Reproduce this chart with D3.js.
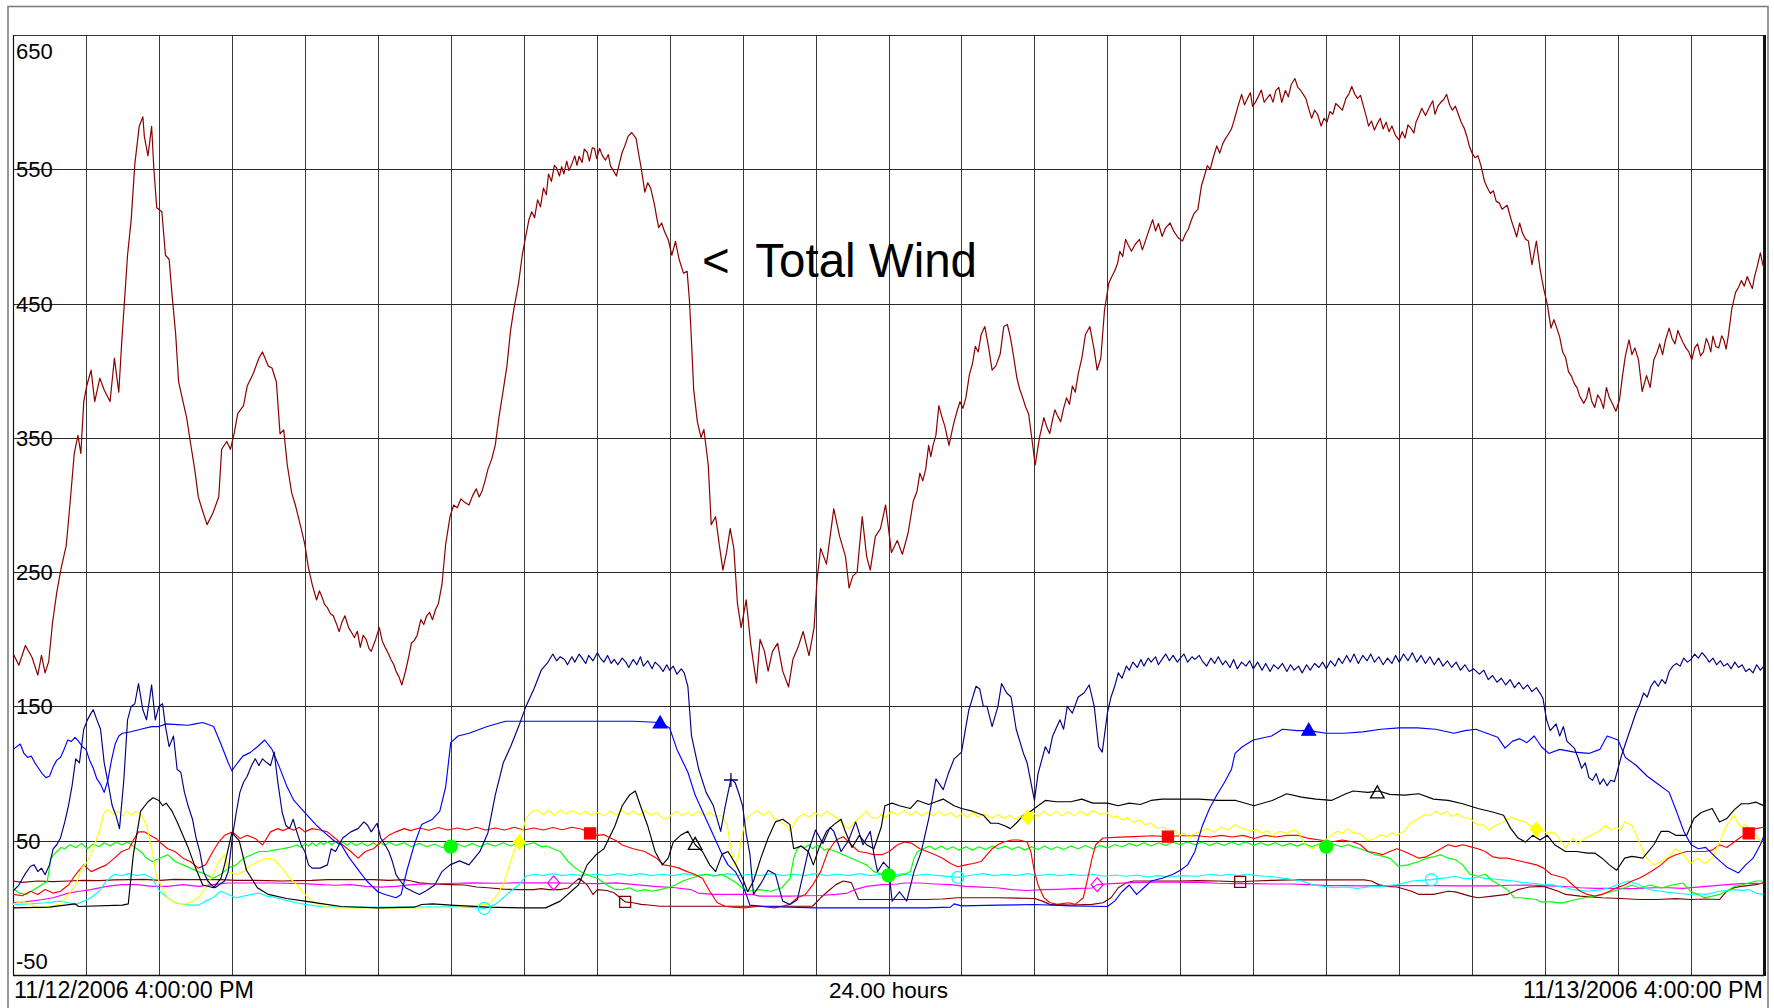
<!DOCTYPE html>
<html><head><meta charset="utf-8">
<script src="https://cdn.jsdelivr.net/npm/d3@7"></script>
<style>
html,body{margin:0;padding:0;background:#fff;overflow:hidden;}
svg{display:block;font-family:"Liberation Sans",Arial,sans-serif;}
</style></head><body>
<svg id="chart" width="1774" height="1008"></svg>
<script>
const startLabel = "11/12/2006 4:00:00 PM";
const endLabel = "11/13/2006 4:00:00 PM";
const spanLabel = "24.00 hours";
const annotation = "<  Total Wind";
const yTicks = [650, 550, 450, 350, 250, 150, 50, -50];
const hourTicks = d3.range(1, 24);

const totalWind = [[0,189.5],[0.08,180.7],[0.17,195.4],[0.26,186.6],[0.34,173.3],[0.39,188],[0.44,175],[0.49,183.6],[0.54,211.6],[0.60,235],[0.66,253],[0.73,270],[0.78,300],[0.84,338.5],[0.89,351.8],[0.93,338.5],[0.97,377],[1.01,388.6],[1.07,400.4],[1.12,377],[1.19,394.5],[1.25,385.7],[1.33,377],[1.39,409.3],[1.45,384],[1.49,421],[1.57,486],[1.62,512.5],[1.67,554],[1.73,582],[1.78,589],[1.80,574.5],[1.85,560],[1.90,582],[1.93,551],[1.97,521.4],[2.04,518.4],[2.09,486],[2.14,483],[2.18,456.5],[2.23,427],[2.27,391.6],[2.33,377],[2.38,365],[2.43,347.3],[2.49,326.7],[2.54,306],[2.59,297],[2.66,285.4],[2.74,294],[2.82,306],[2.86,341.5],[2.93,347.3],[2.98,341.5],[3.03,353],[3.08,368],[3.16,374],[3.21,388.6],[3.29,397.5],[3.37,409.3],[3.42,414],[3.50,403.4],[3.55,402],[3.61,391.6],[3.66,353],[3.71,356],[3.76,329.6],[3.82,309],[3.87,300],[3.95,282.4],[4.00,270.6],[4.05,253],[4.10,241],[4.16,229.3],[4.20,236],[4.23,232.3],[4.27,226],[4.31,223.5],[4.35,219],[4.39,217.5],[4.43,212],[4.47,205.7],[4.51,213],[4.55,217.5],[4.60,208.7],[4.64,205],[4.68,201.3],[4.72,206],[4.76,194],[4.8,203],[4.84,199.9],[4.88,193],[4.91,191],[4.97,199.9],[5.02,208.7],[5.06,199],[5.10,194],[5.14,190],[5.18,185],[5.22,181],[5.25,176.2],[5.29,172],[5.33,166],[5.38,176.2],[5.42,186],[5.46,197],[5.5,199],[5.54,203],[5.59,214.6],[5.63,211],[5.67,217.5],[5.71,220],[5.75,214.6],[5.79,222],[5.83,226.4],[5.88,241],[5.93,270.6],[5.99,291.3],[6.04,300],[6.09,298],[6.14,304.6],[6.19,302],[6.25,300],[6.3,307],[6.35,312],[6.39,306],[6.43,310.5],[6.47,318],[6.51,326.7],[6.56,334],[6.61,344.4],[6.66,365],[6.72,385.7],[6.77,403.4],[6.82,430],[6.87,447.6],[6.93,465.3],[6.98,486],[7.03,500.7],[7.07,512],[7.11,518.4],[7.15,514],[7.19,527.3],[7.23,522],[7.27,536],[7.31,531],[7.34,546.5],[7.38,541],[7.42,553],[7.45,551],[7.49,545],[7.52,552],[7.55,546.5],[7.59,556],[7.62,549],[7.66,554],[7.7,560],[7.73,553],[7.76,559.7],[7.8,555],[7.83,565],[7.87,562.7],[7.9,556],[7.94,566],[7.97,565.6],[8.0,558],[8.04,565.6],[8.08,560],[8.12,556.8],[8.16,561],[8.19,552.4],[8.23,549],[8.27,545],[8.31,554],[8.35,562.7],[8.39,568],[8.43,574.5],[8.48,577.4],[8.54,573],[8.58,560],[8.61,551],[8.66,533],[8.7,540],[8.74,536],[8.79,524.3],[8.82,515],[8.85,506.6],[8.89,510],[8.93,503.7],[8.98,497.8],[9.03,486],[9.08,496.3],[9.13,483],[9.19,472.7],[9.24,474],[9.27,453.5],[9.29,432.9],[9.33,385.7],[9.38,362.1],[9.43,350.3],[9.47,356.2],[9.53,329.6],[9.57,285.4],[9.63,291.3],[9.68,270.6],[9.73,251.5],[9.78,264.7],[9.83,282.4],[9.88,267.7],[9.93,226.4],[9.98,208.7],[10.05,229.3],[10.11,197],[10.19,167.4],[10.24,199.9],[10.30,191],[10.35,176.3],[10.41,191],[10.48,197],[10.55,176.3],[10.63,164.5],[10.69,185.1],[10.76,194],[10.83,205.8],[10.91,187.9],[10.98,208.7],[11.02,244.1],[11.07,267.7],[11.15,256],[11.25,297.2],[11.33,276.6],[11.41,261.8],[11.46,238.2],[11.51,247],[11.57,250],[11.64,291.3],[11.70,261.8],[11.75,251.5],[11.82,276.6],[11.89,282.4],[11.96,300],[12.04,264.7],[12.12,273.6],[12.19,263.3],[12.27,279.5],[12.34,303],[12.39,310],[12.43,323.7],[12.47,318],[12.51,326.7],[12.55,344.4],[12.58,336],[12.61,344.4],[12.65,352],[12.69,374],[12.73,366],[12.77,359.1],[12.83,344.4],[12.87,355],[12.90,362.1],[12.94,370],[12.98,376.9],[13.02,372],[13.06,379.8],[13.11,397.5],[13.15,405],[13.19,418.1],[13.23,414],[13.27,427],[13.32,432.9],[13.37,418.1],[13.42,400.4],[13.47,403.4],[13.53,412.2],[13.58,432.9],[13.63,434.4],[13.67,425],[13.71,412.2],[13.76,394.5],[13.8,386],[13.84,379.8],[13.88,373],[13.92,368],[13.97,347.3],[14.01,329.6],[14.07,350.3],[14.13,365],[14.17,358],[14.21,353.2],[14.25,364],[14.28,370.9],[14.32,366],[14.36,362.1],[14.4,372],[14.44,379.8],[14.48,375],[14.52,388.6],[14.56,384],[14.60,397.5],[14.65,409.3],[14.70,427],[14.76,432.9],[14.82,415.2],[14.86,400.4],[14.91,409.3],[14.96,444.7],[15.02,465.3],[15.06,470],[15.10,474.2],[15.14,480],[15.17,488.9],[15.21,485],[15.25,497.8],[15.29,493],[15.33,488.9],[15.38,494],[15.44,497.8],[15.48,490],[15.51,494.8],[15.56,503],[15.62,512.5],[15.66,504],[15.70,509.6],[15.75,500],[15.80,506.6],[15.86,510],[15.91,503.7],[15.97,499],[16.03,496.6],[16.07,502],[16.11,505.5],[16.15,512],[16.19,517.3],[16.24,520.2],[16.29,537.9],[16.33,545],[16.37,552.7],[16.41,550],[16.45,558.6],[16.50,567.4],[16.54,562],[16.58,568.9],[16.62,573],[16.66,576.3],[16.7,580],[16.73,585.1],[16.79,596.9],[16.84,605.8],[16.88,598],[16.92,602.8],[16.96,607],[16.99,596.9],[17.03,600],[17.07,604.3],[17.11,609],[17.15,599.9],[17.19,603],[17.23,605.8],[17.27,600],[17.31,608.7],[17.35,611],[17.39,599.9],[17.44,608.7],[17.48,604],[17.52,613.1],[17.57,617.6],[17.61,611],[17.65,608.7],[17.72,602.8],[17.76,595],[17.80,588],[17.84,594],[17.88,591],[17.93,582.2],[17.97,588],[18.01,585.1],[18.05,593],[18.09,591],[18.13,599],[18.17,596.9],[18.22,594],[18.27,602.8],[18.31,606],[18.35,611.7],[18.39,606],[18.43,602.8],[18.47,605],[18.51,596.9],[18.55,589],[18.58,582.2],[18.62,586],[18.66,579.2],[18.7,584],[18.74,588],[18.78,580],[18.82,585.1],[18.86,578],[18.90,582.2],[18.95,575],[19.00,571.8],[19.04,578],[19.08,573.3],[19.12,583],[19.16,580.7],[19.2,577],[19.23,585.1],[19.27,590],[19.31,595.4],[19.36,590],[19.42,596.9],[19.46,601],[19.49,591],[19.53,597],[19.57,599.9],[19.61,602],[19.65,605.8],[19.69,598],[19.73,594],[19.77,597],[19.81,591],[19.85,585],[19.89,580.7],[19.93,574],[19.96,567.4],[20.0,562],[20.04,558.6],[20.08,560],[20.12,552.7],[20.17,540.9],[20.21,536],[20.25,532],[20.29,534],[20.33,526.1],[20.37,525],[20.41,520.2],[20.48,523.2],[20.54,511.4],[20.58,505],[20.61,499.6],[20.65,510],[20.69,502.5],[20.73,498],[20.77,496.6],[20.82,478.9],[20.88,496.6],[20.93,475.9],[20.98,461.2],[21.03,449.4],[21.08,431.7],[21.12,438],[21.16,431.7],[21.2,425],[21.24,414],[21.28,410],[21.32,399.3],[21.36,396],[21.40,390.4],[21.44,387],[21.47,381.6],[21.53,375.7],[21.57,380],[21.60,387.5],[21.64,377],[21.68,372.7],[21.72,382],[21.76,378.6],[21.8,372],[21.84,387.5],[21.88,380],[21.92,375.7],[21.97,369.8],[22.02,378.6],[22.06,396],[22.10,411.1],[22.15,422.9],[22.19,412],[22.23,417],[22.28,408.1],[22.33,384.5],[22.39,396.3],[22.44,387.5],[22.49,408.1],[22.53,413],[22.57,420],[22.61,412],[22.65,422.9],[22.70,431.7],[22.74,424],[22.78,420],[22.82,430],[22.85,425.8],[22.89,421],[22.93,417],[22.97,414],[23.01,408.1],[23.05,417],[23.09,420],[23.13,411],[23.17,414],[23.21,424],[23.24,420],[23.27,414],[23.30,425.8],[23.34,418],[23.38,417],[23.42,426],[23.45,422.9],[23.48,416],[23.51,425.8],[23.56,446.5],[23.61,458.3],[23.65,462],[23.69,467.1],[23.73,463],[23.77,470.1],[23.8,466],[23.84,461.2],[23.87,470],[23.90,476],[23.95,487.8],[23.98,480],[24.00,476]];

const navy = [[0,12.4],[0.08,17],[0.16,24.7],[0.24,31],[0.29,32],[0.34,27],[0.39,29.6],[0.44,24.7],[0.5,32],[0.55,44],[0.6,47],[0.65,52],[0.71,64],[0.76,76],[0.81,91],[0.86,111],[0.91,108],[0.97,133],[1.02,140],[1.07,145],[1.1,147.5],[1.15,140],[1.2,133],[1.25,108],[1.31,91],[1.36,76],[1.41,69],[1.46,59],[1.52,96],[1.57,140],[1.62,150],[1.67,152],[1.72,167],[1.78,147.5],[1.83,140],[1.9,166],[1.95,140],[2.0,150],[2.05,152],[2.09,135],[2.14,120],[2.2,128],[2.25,103],[2.3,101],[2.35,86],[2.4,76],[2.46,66],[2.51,52],[2.56,42],[2.61,27],[2.67,20],[2.72,17],[2.77,15],[2.82,17],[2.9,20],[2.95,27],[3.01,54],[3.06,71],[3.11,86],[3.16,93.5],[3.21,98],[3.27,106],[3.32,111],[3.37,106],[3.42,111],[3.48,108],[3.53,106],[3.58,116],[3.63,93.5],[3.69,71],[3.74,61.5],[3.79,59],[3.84,66],[3.89,56.6],[3.95,46.8],[4.0,42],[4.05,32],[4.1,29.6],[4.21,29.6],[4.31,32],[4.36,44],[4.42,42],[4.52,52],[4.63,56.6],[4.73,59],[4.81,64],[4.86,61.5],[4.91,56.6],[4.99,63],[5.04,52],[5.1,46.8],[5.15,42],[5.2,34.5],[5.25,24.7],[5.31,20],[5.38,15],[5.49,12],[5.57,10],[5.67,13],[5.78,17],[5.88,27],[5.99,32],[6.12,35],[6.25,32],[6.4,42],[6.51,56],[6.61,84],[6.72,108],[6.82,120],[6.93,135],[7.03,150],[7.14,163],[7.24,177],[7.32,182],[7.4,189],[7.45,184],[7.5,187],[7.56,185],[7.6,181],[7.66,187],[7.7,183],[7.76,189],[7.8,186],[7.85,182],[7.89,188],[7.95,184],[8.01,190],[8.05,186],[8.1,183],[8.15,188],[8.2,182],[8.24,185],[8.29,181],[8.35,186],[8.4,183],[8.44,179],[8.5,185],[8.55,181],[8.6,187],[8.64,180],[8.7,184],[8.76,178],[8.8,183],[8.86,180],[8.91,176],[8.96,181],[9.0,177],[9.05,180],[9.1,174],[9.16,178],[9.2,175],[9.25,165],[9.3,128],[9.4,103],[9.5,86],[9.6,76],[9.7,57],[9.76,75],[9.84,96],[9.9,93],[9.95,85],[10.0,76],[10.05,55],[10.1,40],[10.15,10],[10.25,18],[10.35,28],[10.45,25],[10.55,5],[10.65,2.5],[10.75,6],[10.85,30],[10.9,42],[11.0,58],[11.1,48],[11.2,60],[11.25,57],[11.35,42],[11.45,50],[11.55,64],[11.65,47],[11.75,57],[11.8,40],[11.85,27],[11.93,34],[12.0,30],[12.05,5],[12.15,12],[12.25,5],[12.35,27],[12.45,42],[12.55,66],[12.65,96],[12.75,88],[12.82,100],[12.9,111],[13.0,116],[13.1,147],[13.2,165],[13.25,163],[13.3,150],[13.35,150],[13.42,135],[13.5,150],[13.55,167],[13.62,160],[13.68,157],[13.75,133],[13.85,115],[13.9,108],[14.0,80],[14.05,100],[14.15,120],[14.2,115],[14.25,128],[14.35,140],[14.4,133],[14.45,150],[14.52,145],[14.6,157],[14.68,160],[14.75,166],[14.82,150],[14.88,120],[14.93,116],[15.0,145],[15.05,157],[15.1,165],[15.15,175],[15.2,171],[15.26,180],[15.3,177],[15.35,183],[15.41,179],[15.46,185],[15.5,180],[15.56,186],[15.6,183],[15.66,187],[15.7,181],[15.76,186],[15.8,189],[15.85,184],[15.9,188],[15.96,183],[16.0,186],[16.05,189],[16.1,183],[16.16,187],[16.2,185],[16.26,188],[16.3,184],[16.36,180],[16.42,186],[16.47,182],[16.52,187],[16.58,181],[16.62,184],[16.68,179],[16.73,185],[16.78,178],[16.84,183],[16.9,180],[16.95,184],[17.0,178],[17.06,183],[17.12,177],[17.17,182],[17.23,176],[17.28,181],[17.34,178],[17.4,182],[17.46,176],[17.51,181],[17.56,177],[17.62,180],[17.67,175],[17.73,181],[17.78,177],[17.84,182],[17.9,179],[17.95,183],[18.0,178],[18.06,184],[18.12,180],[18.17,186],[18.22,182],[18.28,188],[18.33,183],[18.38,189],[18.44,182],[18.5,188],[18.56,184],[18.61,189],[18.66,183],[18.72,187],[18.78,181],[18.84,186],[18.9,182],[18.95,188],[19.0,183],[19.06,189],[19.12,184],[19.18,190],[19.24,183],[19.3,188],[19.36,182],[19.42,187],[19.48,181],[19.54,186],[19.6,180],[19.66,184],[19.72,179],[19.78,183],[19.84,177],[19.9,181],[19.96,176],[20.02,178],[20.1,174],[20.16,177],[20.22,170],[20.28,173],[20.34,168],[20.4,171],[20.46,166],[20.52,170],[20.58,164],[20.64,168],[20.7,163],[20.76,166],[20.82,161],[20.88,164],[20.94,159],[20.97,156],[21.02,140],[21.07,132],[21.15,137],[21.2,128],[21.25,135],[21.3,124],[21.4,119],[21.45,112],[21.5,104],[21.55,108],[21.6,97],[21.65,95],[21.7,100],[21.75,92],[21.8,96],[21.85,91],[21.9,95],[21.95,94],[22.0,104],[22.05,114],[22.1,122],[22.15,130],[22.2,138],[22.25,146],[22.3,152],[22.35,160],[22.4,157],[22.45,165],[22.5,169],[22.55,165],[22.6,170],[22.65,167],[22.7,176],[22.75,180],[22.8,182],[22.85,180],[22.9,186],[22.95,183],[23.0,185],[23.05,189],[23.1,186],[23.15,190],[23.2,187],[23.25,183],[23.3,186],[23.35,181],[23.4,184],[23.45,180],[23.5,182],[23.55,178],[23.6,183],[23.65,179],[23.7,181],[23.75,176],[23.8,178],[23.85,175],[23.9,181],[23.95,177],[24.0,180]];

const blue = [[0,118],[0.1,122],[0.15,115],[0.2,112],[0.25,113],[0.3,108],[0.35,104],[0.4,100],[0.45,97],[0.5,98],[0.55,105],[0.6,110],[0.65,112],[0.7,118],[0.75,125],[0.8,124],[0.85,127],[0.9,124],[0.95,120],[1.0,118],[1.05,110],[1.1,104],[1.15,96],[1.2,92],[1.25,86],[1.3,95],[1.35,110],[1.4,122],[1.45,128],[1.5,130],[1.6,131],[1.75,133],[1.9,135],[2.0,135],[2.1,137],[2.25,136.5],[2.4,136],[2.5,137],[2.6,138],[2.75,135],[2.85,122],[2.95,108],[3.0,102],[3.05,106],[3.15,113],[3.25,115.6],[3.35,120],[3.45,125],[3.55,118],[3.65,105],[3.75,91],[3.85,80],[4.0,71],[4.15,62],[4.25,57],[4.4,50],[4.5,47],[4.6,38],[4.75,27],[4.85,20],[5.0,12],[5.1,10],[5.25,7.5],[5.32,10],[5.4,28],[5.5,47],[5.6,62],[5.75,66],[5.85,72],[5.93,90],[6.0,123],[6.1,128],[6.25,130],[6.5,135],[6.75,139],[7.0,139],[7.5,139],[8.0,139],[8.5,139],[8.87,138],[9.0,134],[9.1,118],[9.25,101],[9.35,84],[9.5,66],[9.6,54],[9.7,42],[9.8,32],[9.9,27],[10.0,17],[10.05,10],[10.1,2],[10.3,1],[11.0,0],[12.5,0],[12.85,0.5],[12.9,3],[13.0,1.5],[13.5,2],[14.0,2.5],[14.5,1.5],[15.0,1],[15.1,5],[15.2,12],[15.3,17],[15.4,10],[15.5,15],[15.6,20],[15.75,22],[15.9,25],[16.0,28],[16.1,32],[16.2,42],[16.3,61],[16.4,74],[16.5,84],[16.6,93],[16.7,103],[16.75,115],[16.85,120],[17.0,125],[17.25,128],[17.4,133],[17.6,132],[17.76,132],[18.0,130],[18.25,130],[18.5,131],[18.75,133],[19.0,134],[19.25,134],[19.5,133],[19.75,130],[19.9,132],[20.05,133],[20.2,130],[20.35,127],[20.45,119],[20.55,124],[20.65,126],[20.75,123],[20.85,128],[20.95,120],[21.05,115],[21.2,118],[21.4,116],[21.6,115],[21.75,118],[21.85,128],[22.0,125],[22.1,112],[22.25,106],[22.4,98],[22.55,92],[22.7,86],[22.8,72],[22.9,57],[23.0,47],[23.1,44],[23.2,45],[23.35,37],[23.5,30],[23.65,26],[23.75,32],[23.85,37],[23.95,47],[24.0,54]];

const black = [[0,0],[0.5,0.5],[0.85,3],[0.9,1],[1.5,2],[1.58,3],[1.65,40],[1.75,72],[1.85,79],[1.92,82],[2.0,80],[2.05,76],[2.1,78],[2.18,72],[2.25,64],[2.4,45],[2.5,30],[2.6,17],[2.75,15],[2.85,22],[2.9,32],[3.0,56],[3.1,50],[3.2,28],[3.35,15],[3.5,10],[3.75,7],[4.0,5],[4.25,3],[4.5,1],[5.0,0],[5.5,0.5],[5.6,2.5],[5.75,3],[6.0,2],[6.5,0.5],[7.0,0],[7.3,0],[7.5,5],[7.75,17],[7.87,32],[8.0,40],[8.1,44],[8.25,61],[8.35,76],[8.45,84],[8.53,87],[8.6,76],[8.7,61],[8.8,42],[8.9,32],[8.98,37],[9.05,49],[9.15,54],[9.25,57],[9.35,47],[9.45,42],[9.55,32],[9.63,27],[9.72,40],[9.8,42],[9.9,33],[10.0,22],[10.07,12],[10.15,20],[10.25,37],[10.35,52],[10.45,64],[10.55,66],[10.65,62],[10.7,44],[10.8,46],[10.9,42],[10.97,32],[11.05,45],[11.15,57],[11.25,62],[11.35,66],[11.4,58],[11.5,45],[11.6,54],[11.7,47],[11.8,44],[11.9,60],[11.95,76],[12.05,78],[12.15,76],[12.3,74],[12.4,80],[12.55,77],[12.65,79],[12.75,81],[12.9,76],[13.0,74],[13.15,72],[13.3,69],[13.4,63],[13.5,63],[13.6,61],[13.67,59],[13.75,63],[13.85,69],[13.95,72],[14.05,76],[14.15,80],[14.3,79],[14.5,79],[14.65,81],[14.8,78],[15.0,78],[15.15,76],[15.3,78],[15.45,77],[15.6,80],[15.75,81],[16.0,81],[16.26,81],[16.51,80],[16.76,80],[17.01,76],[17.26,80],[17.46,85],[17.66,82.5],[17.86,81],[18.07,80],[18.27,85],[18.37,87],[18.57,86],[18.72,87],[18.87,84.5],[19.07,84],[19.27,85],[19.47,81],[19.67,80],[19.87,77.5],[20.08,74],[20.28,71.4],[20.43,69],[20.53,59],[20.63,52],[20.73,49],[20.83,54],[20.93,50.5],[21.03,54],[21.13,47],[21.28,42],[21.43,42],[21.58,40.8],[21.68,40.8],[21.78,37],[21.88,32],[21.98,28],[22.09,37],[22.19,38.3],[22.34,37],[22.49,47],[22.59,57],[22.69,57],[22.79,54],[22.94,54],[23.04,66.5],[23.14,71],[23.29,74],[23.39,64],[23.49,66.5],[23.59,73],[23.69,77.5],[23.79,77.5],[23.89,78.7],[23.99,76.3]];

const yellow = [[0,2.6],[0.13,5],[0.24,2.6],[0.34,0],[0.5,1.2],[0.65,2.6],[0.76,10],[0.86,17],[0.94,29.6],[1.02,34.5],[1.1,44],[1.18,56.6],[1.25,71],[1.3,73],[1.38,69.5],[1.44,72],[1.5,68.5],[1.56,72],[1.62,69],[1.68,72],[1.75,70],[1.83,61.5],[1.91,42],[1.96,25],[2.04,15],[2.12,7.5],[2.22,3.8],[2.33,2.6],[2.43,3.8],[2.54,7.5],[2.64,15],[2.74,25],[2.82,34.5],[2.9,39.6],[2.95,27],[3.06,25],[3.16,27],[3.27,32],[3.37,34.5],[3.48,37],[3.58,36],[3.69,29.6],[3.79,22.2],[3.89,17.3],[4.0,10],[4.1,5],[4.26,1],[4.42,0],[5.57,0],[6.09,0.5],[6.51,2.6],[6.61,7.5],[6.72,17.3],[6.82,34.5],[6.9,46.8],[6.98,56.6],[7.03,66.5],[7.11,71.4],[7.19,73],[7.27,69.5],[7.34,72.5],[7.43,69],[7.5,73],[7.58,70],[7.66,72.5],[7.76,69.5],[7.85,72],[7.93,69],[8.01,71],[8.1,68.5],[8.19,72],[8.27,69],[8.35,72.5],[8.43,69.5],[8.5,72],[8.58,69],[8.66,72.5],[8.74,69],[8.82,71],[8.9,67],[8.97,66.5],[9.04,70],[9.1,72],[9.17,68.5],[9.24,71],[9.32,68.5],[9.39,72],[9.47,69],[9.55,71],[9.63,68],[9.71,69],[9.79,61.5],[9.84,44],[9.89,32],[9.94,37],[9.99,54],[10.05,66.5],[10.13,70],[10.2,72.5],[10.28,69],[10.36,72],[10.44,66.5],[10.52,64],[10.6,61.5],[10.65,57],[10.75,66.5],[10.83,70],[10.91,67.7],[10.99,71],[11.07,68],[11.15,72],[11.23,69],[11.3,66.5],[11.38,61.5],[11.46,59],[11.54,64],[11.64,69],[11.7,72],[11.75,67.7],[11.85,66.5],[11.9,70],[11.96,67],[12.04,72],[12.12,69],[12.22,72.6],[12.3,69],[12.38,72],[12.45,68.5],[12.53,71],[12.61,68.5],[12.69,72],[12.77,68.5],[12.85,71],[12.93,67.5],[13.01,70.5],[13.08,67.5],[13.16,71],[13.23,67.5],[13.3,70],[13.42,66.5],[13.5,69.5],[13.58,66.5],[13.66,69],[13.74,66],[13.82,69],[13.91,67.2],[13.98,71],[14.05,68],[14.13,72],[14.21,68.5],[14.3,72],[14.38,68.5],[14.46,71.5],[14.55,68.5],[14.63,72],[14.72,69],[14.8,72.5],[14.9,69.5],[14.99,71],[15.07,67.2],[15.14,68.5],[15.2,65.5],[15.28,67],[15.36,63.5],[15.44,65.5],[15.52,62],[15.6,63],[15.68,59.5],[15.78,60],[15.85,56.6],[15.92,58],[15.99,54],[16.06,55.5],[16.12,52.5],[16.18,55],[16.26,56.6],[16.36,59],[16.46,56.5],[16.56,60],[16.66,58],[16.75,62],[16.81,60],[16.9,58.5],[16.96,56.8],[17.05,58.5],[17.11,55.6],[17.2,57.5],[17.26,53.5],[17.36,57],[17.46,55.6],[17.55,58],[17.61,56.6],[17.71,47],[17.81,44],[17.91,47],[18.0,51],[18.07,54],[18.15,57],[18.22,55.6],[18.3,59],[18.37,56],[18.47,55],[18.57,50],[18.67,51.7],[18.75,54.5],[18.82,53],[18.9,56],[18.97,54],[19.07,57],[19.17,64],[19.27,66.5],[19.35,69.5],[19.42,68.5],[19.5,72],[19.57,69.5],[19.65,72],[19.72,68],[19.8,70],[19.87,67.5],[19.97,66.5],[20.08,61.5],[20.15,62],[20.23,58],[20.33,61.5],[20.43,64],[20.53,67.7],[20.63,65.5],[20.73,64],[20.8,61],[20.88,58.6],[20.95,58],[21.03,55.6],[21.12,56],[21.18,53],[21.28,44],[21.38,52],[21.45,48],[21.53,51],[21.63,54],[21.73,56.6],[21.83,61.5],[21.9,58],[21.98,60],[22.04,58],[22.09,64],[22.19,61.5],[22.29,49],[22.39,37],[22.49,32],[22.59,34.5],[22.69,38],[22.79,44],[22.89,40],[22.99,33],[23.09,37],[23.19,33],[23.29,37],[23.39,49],[23.49,61.5],[23.59,69],[23.64,63],[23.69,60],[23.74,62],[23.79,59],[23.84,57],[23.89,54],[23.99,47]];

const red = [[0,10],[0.13,9],[0.24,12.4],[0.34,10],[0.44,13.6],[0.55,11],[0.65,12.4],[0.76,17],[0.86,25],[0.97,32],[1.07,27],[1.18,29.6],[1.28,32],[1.39,37],[1.49,42],[1.59,44],[1.65,50.5],[1.72,56.6],[1.8,56.6],[1.88,54],[1.96,51.7],[2.01,49],[2.12,44],[2.22,42],[2.33,37],[2.43,34.5],[2.54,29.6],[2.64,32],[2.74,42],[2.82,49],[2.9,54],[3.01,56.6],[3.11,51.7],[3.21,54],[3.32,51.7],[3.42,46.8],[3.53,56.6],[3.63,59],[3.7,57.5],[3.78,59.5],[3.85,57.8],[3.92,60],[4.0,56.6],[4.1,59],[4.21,58],[4.31,56.6],[4.42,51.7],[4.52,46.8],[4.63,42],[4.73,37],[4.83,42],[4.94,44],[5.04,49],[5.15,54],[5.25,56.6],[5.36,59],[5.45,57.5],[5.57,59.5],[5.7,57.8],[5.83,59.8],[5.96,58],[6.09,59.5],[6.22,58],[6.35,60],[6.48,58],[6.61,59.5],[6.74,58],[6.87,60],[7.0,58],[7.14,59.5],[7.27,58],[7.4,59.8],[7.53,58.2],[7.66,60],[7.8,58.5],[7.91,55.4],[8.01,54],[8.1,54.5],[8.19,52],[8.27,50],[8.35,46.8],[8.5,44],[8.66,42],[8.82,37],[8.92,32],[9.03,31],[9.13,29.6],[9.24,27],[9.34,25],[9.45,22],[9.55,12.4],[9.65,4],[9.76,1.2],[9.86,0.5],[10.02,0],[10.23,1.2],[10.44,0],[10.54,1.2],[10.65,2.6],[10.75,7.5],[10.86,10],[10.96,17],[11.07,27],[11.17,42],[11.28,50.5],[11.38,53],[11.49,47],[11.59,42],[11.7,41],[11.8,39.6],[11.91,39.6],[12.01,42],[12.12,46.8],[12.22,49],[12.32,48],[12.43,44],[12.53,42],[12.64,39.6],[12.74,37],[12.85,33],[12.95,30.6],[13.06,32],[13.16,33],[13.27,34.5],[13.35,39.6],[13.42,44],[13.5,47],[13.58,49],[13.69,50.5],[13.79,50.5],[13.9,49],[13.95,42],[14.0,27],[14.05,17],[14.13,7.5],[14.21,4],[14.31,2.6],[14.47,3.8],[14.56,2.6],[14.67,7.5],[14.73,22],[14.79,37],[14.84,47],[14.94,52],[15.1,52.5],[15.36,53],[15.62,53.7],[15.83,53],[15.99,53.7],[16.24,53.7],[16.41,52.8],[16.56,54],[16.71,52.8],[16.86,54],[17.01,51.7],[17.16,54],[17.31,52.8],[17.46,54],[17.61,54],[17.76,51.7],[17.91,50.5],[18.07,49],[18.22,50.5],[18.37,49],[18.47,47],[18.57,42],[18.67,41],[18.77,39.6],[18.87,42],[18.97,44],[19.07,42],[19.17,39.6],[19.27,37],[19.37,38],[19.47,40.8],[19.57,44],[19.67,47],[19.77,45.6],[19.87,47],[19.97,45.6],[20.08,44],[20.18,42],[20.28,38],[20.38,37],[20.48,37],[20.58,35.8],[20.68,34.5],[20.78,33.3],[20.88,32],[20.98,29.6],[21.08,25],[21.18,23.5],[21.28,22],[21.38,17],[21.48,12.4],[21.58,10],[21.68,8.7],[21.78,10],[21.88,12.4],[21.98,15],[22.09,17],[22.19,20],[22.29,22],[22.39,25],[22.49,28.4],[22.59,32],[22.69,37],[22.79,39.6],[22.94,42],[23.04,42],[23.19,42],[23.29,43],[23.39,47],[23.49,45],[23.59,49],[23.69,53],[23.79,55.4],[23.89,59],[23.99,60]];

const green = [[0,15],[0.08,11],[0.18,10],[0.29,13.6],[0.39,17],[0.47,19.8],[0.52,37],[0.6,42],[0.66,45],[0.71,44],[0.78,47],[0.86,45],[0.94,48],[1.02,44],[1.1,47.5],[1.18,45.5],[1.25,48.5],[1.33,46],[1.41,49],[1.49,47],[1.57,49],[1.65,45.8],[1.75,42],[1.83,37],[1.91,34.5],[2.01,37],[2.12,39.6],[2.22,34.5],[2.33,32],[2.43,29.6],[2.54,27],[2.64,25],[2.74,22],[2.85,25],[2.95,29.6],[3.06,32],[3.16,37],[3.27,39.6],[3.37,42],[3.48,42],[3.58,43],[3.69,44],[3.79,45],[3.89,46.8],[3.95,45],[4.0,48],[4.05,46],[4.1,48.5],[4.16,46],[4.21,49],[4.26,47],[4.31,49.5],[4.37,47],[4.42,49.5],[4.47,47],[4.52,49],[4.58,46.5],[4.63,49],[4.7,46.5],[4.78,48.5],[4.86,46],[4.94,48.5],[5.0,46],[5.04,48.5],[5.1,46.5],[5.15,49],[5.25,46.5],[5.36,48.5],[5.46,45.5],[5.57,48],[5.67,45.5],[5.78,47.5],[5.88,45],[5.99,45.6],[6.09,47.5],[6.19,45.5],[6.3,48],[6.4,45.5],[6.5,48],[6.61,46],[6.72,48.5],[6.82,46],[6.93,48.5],[7.03,47],[7.14,48.5],[7.24,45.6],[7.32,46],[7.4,44],[7.5,42],[7.61,34.5],[7.71,29.6],[7.81,26],[7.92,23.5],[8.01,22],[8.14,17],[8.24,14],[8.35,13.6],[8.45,15],[8.55,12.4],[8.66,13.6],[8.76,12.4],[8.87,13.6],[8.97,15],[9.08,17],[9.18,20],[9.29,22],[9.39,23.5],[9.5,25],[9.6,23.5],[9.71,25],[9.81,22],[9.92,18.5],[9.99,15],[10.07,12.4],[10.23,13.6],[10.39,12.4],[10.54,15],[10.65,22],[10.7,37],[10.75,44],[10.8,46],[10.86,45],[10.91,47],[10.96,44],[11.02,46.5],[11.07,45.6],[11.12,43],[11.17,44],[11.28,42],[11.38,39.6],[11.49,37],[11.59,34.5],[11.7,32],[11.8,27],[11.91,25],[12.0,24.2],[12.12,23.5],[12.22,25],[12.3,27],[12.35,37],[12.4,42],[12.48,44],[12.56,46],[12.64,43.5],[12.72,46],[12.8,43.5],[12.88,45.5],[12.96,43],[13.06,45.5],[13.15,43],[13.24,45.5],[13.33,43.5],[13.42,46],[13.5,44],[13.6,46],[13.69,43.5],[13.78,45.5],[13.87,43],[13.96,45.5],[14.05,43.5],[14.14,46],[14.23,43.5],[14.31,45.5],[14.4,43.5],[14.5,46],[14.6,44],[14.7,46.5],[14.8,44],[14.9,46.5],[15.0,44.5],[15.1,47],[15.2,45.5],[15.3,48],[15.4,46],[15.5,48.5],[15.6,46],[15.7,48.5],[15.8,46.5],[15.9,49],[16.0,47],[16.1,49],[16.2,47],[16.3,49],[16.4,46.5],[16.5,48.5],[16.6,46.5],[16.7,49],[16.8,47],[16.9,49],[17.0,46.5],[17.1,48.5],[17.2,46.5],[17.3,48.5],[17.4,46],[17.5,48],[17.6,46],[17.7,48],[17.8,45.5],[17.9,47.5],[18.0,45.6],[18.1,47.5],[18.2,45.5],[18.3,47],[18.37,45.6],[18.47,44],[18.57,42],[18.67,39.6],[18.77,38.5],[18.87,37],[18.99,31],[19.12,32],[19.27,34.5],[19.37,37],[19.47,38],[19.57,39.6],[19.67,37],[19.77,35.8],[19.87,32],[19.97,25],[20.08,23.5],[20.18,25],[20.28,20],[20.38,17],[20.48,13.6],[20.58,7.5],[20.68,7.5],[20.88,6.2],[20.93,4.5],[21.08,4.5],[21.23,3.5],[21.38,5.7],[21.53,7.5],[21.68,8.7],[21.78,10],[21.93,12.4],[22.09,15],[22.19,17],[22.29,14.8],[22.44,17],[22.59,14.8],[22.74,17],[22.89,18.5],[22.99,12.4],[23.09,10],[23.19,7.5],[23.29,8.7],[23.39,10],[23.49,12.4],[23.59,16],[23.69,17],[23.79,18.5],[23.89,20],[23.99,20]];

const cyan = [[0,2.6],[0.24,3],[0.44,3.8],[0.65,5],[0.76,3.8],[0.86,2.6],[0.97,5],[1.07,7.5],[1.18,12.4],[1.28,20],[1.39,25],[1.49,24],[1.59,25.5],[1.7,24],[1.8,25],[1.91,22],[1.96,17],[2.01,12.4],[2.12,7.5],[2.22,3.8],[2.33,2.6],[2.43,2],[2.54,2],[2.64,5],[2.74,7.5],[2.85,12.4],[2.95,10],[3.06,7.5],[3.16,8.7],[3.27,10],[3.37,11],[3.48,8.7],[3.58,8],[3.69,6.2],[3.79,5],[3.89,3.8],[4.0,2.6],[4.21,1],[4.42,0.5],[5.04,0.5],[5.57,0.5],[6.09,1],[6.46,-0.4],[6.61,2.6],[6.72,7.5],[6.82,12.4],[6.93,17],[7.03,23.5],[7.14,25],[7.27,24],[7.4,25.5],[7.53,24],[7.66,25],[7.8,24],[8.01,25],[8.15,24],[8.3,25.5],[8.45,24],[8.6,25.5],[8.75,24],[8.9,25],[9.05,24],[9.2,25.5],[9.35,24],[9.5,25],[9.65,24],[9.8,25.5],[9.95,24],[10.1,25],[10.25,24],[10.4,25.5],[10.55,24],[10.7,25],[10.85,24],[11.0,25.5],[11.15,24],[11.3,25],[11.45,24],[11.6,25.5],[11.75,24],[11.9,25],[12.05,24],[12.2,25.5],[12.35,24],[12.5,25],[12.7,24],[12.95,22.7],[13.15,24.5],[13.3,25.5],[13.45,24],[13.6,25],[13.75,24],[13.9,25.5],[14.05,24],[14.2,25],[14.35,24],[14.5,25],[14.65,24],[14.8,25],[14.95,23.5],[15.1,24.5],[15.25,23.5],[15.4,24.5],[15.55,23],[15.7,24],[15.85,23],[16.0,24],[16.24,23.5],[16.41,25],[16.56,24],[16.66,25],[16.8,24],[16.91,25],[17.05,24],[17.16,23.5],[17.3,23],[17.41,22],[17.55,21],[17.66,20],[17.81,17.3],[17.96,16],[18.12,15],[18.27,15.5],[18.42,14.5],[18.57,15.5],[18.77,16],[18.97,17.3],[19.17,20],[19.3,20.5],[19.44,21],[19.57,22],[19.67,22.5],[19.77,23.5],[19.87,22],[19.97,21.8],[20.08,23],[20.18,22],[20.28,21.5],[20.38,21],[20.48,20.5],[20.58,20],[20.68,19],[20.78,18.5],[20.88,18],[20.98,17],[21.08,17.5],[21.18,16],[21.28,15],[21.38,13.6],[21.48,13],[21.58,12.4],[21.68,13],[21.78,13.6],[21.88,15],[21.98,17],[22.06,18.5],[22.14,20],[22.22,18.5],[22.29,17.3],[22.36,15],[22.44,13.6],[22.59,12.4],[22.69,11.5],[22.79,11],[22.89,10.5],[22.99,10],[23.09,10.5],[23.19,10],[23.29,11],[23.39,12.4],[23.49,13],[23.59,13.6],[23.69,13],[23.79,13.6],[23.89,11],[23.99,10]];

const magenta = [[0,3.8],[0.24,5],[0.39,6],[0.55,7.5],[0.76,11],[0.91,12.4],[1.07,13.6],[1.28,16],[1.49,17.3],[1.7,17.3],[1.91,16],[2.12,16],[2.33,17.3],[2.54,16],[2.74,17.3],[2.95,18.5],[3.16,18.5],[3.58,18.5],[4.0,18],[4.21,17.3],[4.42,16.8],[4.63,17.3],[4.83,16],[5.04,15.4],[5.25,16],[5.46,17.3],[5.67,17.8],[5.88,18],[6.09,18.3],[6.3,18.6],[6.61,18.3],[6.87,18.6],[7.41,18.6],[7.66,18.3],[8.01,18],[8.27,18.6],[8.53,17.3],[8.79,16],[9.08,15],[9.29,13.6],[9.39,11],[9.6,10],[9.86,10],[10.13,10],[10.23,8.7],[10.44,8.7],[10.65,8.7],[10.86,9],[11.07,9.2],[11.28,10],[11.44,11],[11.54,13.6],[11.7,16],[11.91,17.3],[12.12,17.8],[12.22,18.5],[12.43,18.5],[12.64,17.8],[12.85,17.3],[13.06,16],[13.27,15.4],[13.48,15],[13.69,13.6],[13.9,12.9],[14.11,13.6],[14.31,13.8],[14.56,14.3],[14.79,14.8],[14.86,17.3],[15.05,18],[15.26,18.6],[15.47,19],[15.68,19.2],[15.89,19.2],[16.1,19],[16.24,19],[16.51,18.3],[16.76,18],[17.01,18],[17.26,17.8],[17.51,17.8],[17.76,17.3],[18.02,16.6],[18.27,16.6],[18.52,16.4],[18.77,16.6],[19.02,16.6],[19.27,16.6],[19.52,16.6],[19.77,16.4],[20.03,16.4],[20.28,16.4],[20.53,16.8],[20.78,17],[21.03,16.4],[21.28,15.9],[21.48,15],[21.68,14.5],[21.88,14.5],[22.09,14.3],[22.29,14.5],[22.49,15],[22.69,15],[22.89,14.5],[23.09,15.4],[23.29,16.4],[23.49,17.3],[23.69,18],[23.89,18.3],[23.99,18]];

const brown = [[0,20],[0.13,19],[0.34,20],[0.55,19.5],[0.76,20],[0.97,20.5],[1.18,20.3],[1.39,20.8],[1.59,21],[1.8,21.2],[2.01,20.5],[2.22,21.2],[2.43,21],[2.64,21],[2.85,21],[3.06,20.5],[3.27,20.5],[3.48,20.3],[3.69,20],[3.89,20.3],[4.1,20.5],[4.31,21],[4.52,21],[4.73,21],[4.94,21],[5.15,20.5],[5.36,21],[5.46,20],[5.57,18.6],[5.78,17.8],[5.99,17.3],[6.19,17],[6.35,15.5],[6.51,15],[6.72,13.9],[6.93,13.6],[7.14,13.6],[7.24,14.3],[7.34,13.6],[7.5,13.6],[7.61,14.8],[7.66,17.3],[7.76,22],[7.87,17],[7.95,10],[8.01,13.6],[8.14,12.9],[8.24,11.2],[8.32,7.5],[8.39,4.5],[8.5,3.8],[8.61,2.6],[8.71,2.1],[8.87,1.2],[9.08,1.2],[9.6,1.2],[10.13,1.2],[10.65,1.2],[10.96,1.2],[11.07,7.5],[11.17,12.4],[11.28,17.3],[11.38,20],[11.49,18.8],[11.59,6.2],[11.7,6.2],[12.0,6.2],[12.5,6.2],[12.74,6.6],[12.95,7.5],[13.5,7.5],[14.0,7],[14.11,5],[14.21,2.6],[14.5,2.1],[14.79,2.6],[14.94,3.8],[15.05,7.5],[15.15,15],[15.26,18.6],[15.36,20],[15.57,20],[15.78,20],[15.99,20],[16.24,20.3],[16.51,20],[16.82,19.3],[17.01,20],[17.26,20.5],[17.51,20.8],[17.76,20.8],[18.02,20.8],[18.27,20.8],[18.52,20.8],[18.62,20],[18.72,17.3],[18.82,16],[18.97,15.5],[19.17,12.4],[19.27,10],[19.47,10],[19.67,12.4],[19.77,11.9],[19.97,8.7],[20.08,7.5],[20.28,8.7],[20.48,10],[20.63,13.6],[20.78,15.5],[20.98,16],[21.18,12.4],[21.28,10],[21.48,8.7],[21.78,7.5],[22.04,7],[22.29,6.2],[22.54,6.2],[22.79,6.9],[22.99,6.2],[23.19,6.6],[23.39,6.2],[23.49,12.4],[23.59,15],[23.69,16],[23.89,17.3],[23.99,18.6]];

// marker positions [hour, value]
const greenMarks = [[6.0,45.6],[12.0,24.2],[18.0,45.6]];
const yellowMarks = [[6.94,48.8],[13.91,67.2],[20.88,58.6]];
const cyanMarks = [[6.46,-0.4],[12.95,22.7],[19.44,21]];
const magentaMarks = [[7.41,18.6],[14.86,17.3]];
const redMarks = [[7.91,55.4],[15.83,53],[23.79,55.4]];
const brownMarks = [[8.39,4.5],[16.82,19.3]];
const blueMarks = [[8.87,137.7],[17.76,132.3]];
const blackMarks = [[9.35,47.3],[18.7,85.6]];
const navyMarks = [[9.84,95.2]];

const series = [
  {data: brown, color: "#800000", marks: brownMarks, shape: "square", filled: false},
  {data: magenta, color: "#FF00FF", marks: magentaMarks, shape: "diamond", filled: false},
  {data: cyan, color: "#00FFFF", marks: cyanMarks, shape: "circle", filled: false},
  {data: green, color: "#00FF00", marks: greenMarks, shape: "circle", filled: true},
  {data: red, color: "#FF0000", marks: redMarks, shape: "square", filled: true},
  {data: yellow, color: "#FFFF00", marks: yellowMarks, shape: "diamond", filled: true},
  {data: black, color: "#000000", marks: blackMarks, shape: "triangle", filled: false},
  {data: blue, color: "#0000FF", marks: blueMarks, shape: "triangle", filled: true},
  {data: navy, color: "#000080", marks: navyMarks, shape: "plus", filled: false},
  {data: totalWind, color: "#8B0000", marks: [], shape: null, filled: false, width: 1.2}
];

const L = 13, R = 1764, T = 35, B = 975;
const x = d3.scaleLinear().domain([0, 24]).range([L, R]);
const y = d3.scaleLinear().domain([-50, 650]).range([B, T]);

const svg = d3.select("#chart");
svg.append("rect").attr("x", 0).attr("y", 0).attr("width", 1774).attr("height", 1008).attr("fill", "#fff");
svg.append("rect").attr("x", 8).attr("y", 6.5).attr("width", 1760).attr("height", 1030)
  .attr("fill", "none").attr("stroke", "#808080").attr("stroke-width", 1.6);

const defs = svg.append("defs");
defs.append("clipPath").attr("id", "plotclip").append("rect")
  .attr("x", L).attr("y", T).attr("width", R - L).attr("height", B - T);

const grid = svg.append("g");
grid.selectAll("line.v").data(hourTicks).join("line")
  .attr("x1", d => Math.round(x(d)) + 0.5).attr("x2", d => Math.round(x(d)) + 0.5)
  .attr("y1", T).attr("y2", B).attr("stroke", "#3a3a3a").attr("stroke-width", 1);
grid.selectAll("line.h").data(yTicks.filter(v => v > -50 && v < 650)).join("line")
  .attr("x1", L).attr("x2", R).attr("y1", d => Math.round(y(d)) + 0.5).attr("y2", d => Math.round(y(d)) + 0.5)
  .attr("stroke", "#2a2a2a").attr("stroke-width", 1);
svg.append("line").attr("x1", L).attr("x2", R).attr("y1", T + 0.5).attr("y2", T + 0.5).attr("stroke", "#333").attr("stroke-width", 1.2);
svg.append("line").attr("x1", L).attr("x2", R).attr("y1", B + 0.5).attr("y2", B + 0.5).attr("stroke", "#111").attr("stroke-width", 1.4);
svg.append("line").attr("x1", L + 0.5).attr("x2", L + 0.5).attr("y1", T).attr("y2", B).attr("stroke", "#111").attr("stroke-width", 1.2);
svg.append("line").attr("x1", R + 0.5).attr("x2", R + 0.5).attr("y1", T).attr("y2", B + 1).attr("stroke", "#111").attr("stroke-width", 3);

const line = d3.line().x(d => x(d[0])).y(d => y(d[1]));
const plot = svg.append("g").attr("clip-path", "url(#plotclip)");
series.forEach(s => {
  plot.append("path").datum(s.data).attr("d", line)
    .attr("fill", "none").attr("stroke", s.color).attr("stroke-width", s.width || 1.15)
    .attr("stroke-linejoin", "round");
});

const shapes = {
  square: "M-5.5,-5.5h11v11h-11z",
  diamond: "M0,-7L6,0L0,7L-6,0Z",
  triangle: "M0,-7L6.8,5L-6.8,5Z",
  plus: "M-7,0H7M0,-7V7"
};
series.forEach(s => {
  s.marks.forEach(m => {
    const g = plot.append("g").attr("transform", `translate(${x(m[0])},${y(m[1])})`);
    if (s.shape === "circle") {
      g.append("circle").attr("r", s.filled ? 6.5 : 6)
        .attr("fill", s.filled ? s.color : "none").attr("stroke", s.color).attr("stroke-width", 1.3);
    } else {
      g.append("path").attr("d", shapes[s.shape])
        .attr("fill", s.filled ? s.color : "none").attr("stroke", s.color).attr("stroke-width", 1.3);
    }
  });
});

svg.append("g").selectAll("text").data(yTicks).join("text")
  .attr("x", 16)
  .attr("y", d => Math.min(Math.max(y(d), 50.5), 961) + 8)
  .attr("font-size", 22).attr("fill", "#000")
  .text(d => d);

svg.append("text").attr("x", 14).attr("y", 998).attr("font-size", 23)
  .attr("textLength", 240).attr("lengthAdjust", "spacingAndGlyphs").text(startLabel);
svg.append("text").attr("x", (L + R) / 2).attr("y", 998).attr("font-size", 22.5)
  .attr("text-anchor", "middle").text(spanLabel);
svg.append("text").attr("x", 1763).attr("y", 998).attr("font-size", 23)
  .attr("text-anchor", "end").attr("textLength", 240).attr("lengthAdjust", "spacingAndGlyphs").text(endLabel);

svg.append("text").attr("x", 702).attr("y", 277).attr("font-size", 47.5)
  .attr("xml:space", "preserve").style("white-space", "pre").text(annotation);
</script>
</body></html>
